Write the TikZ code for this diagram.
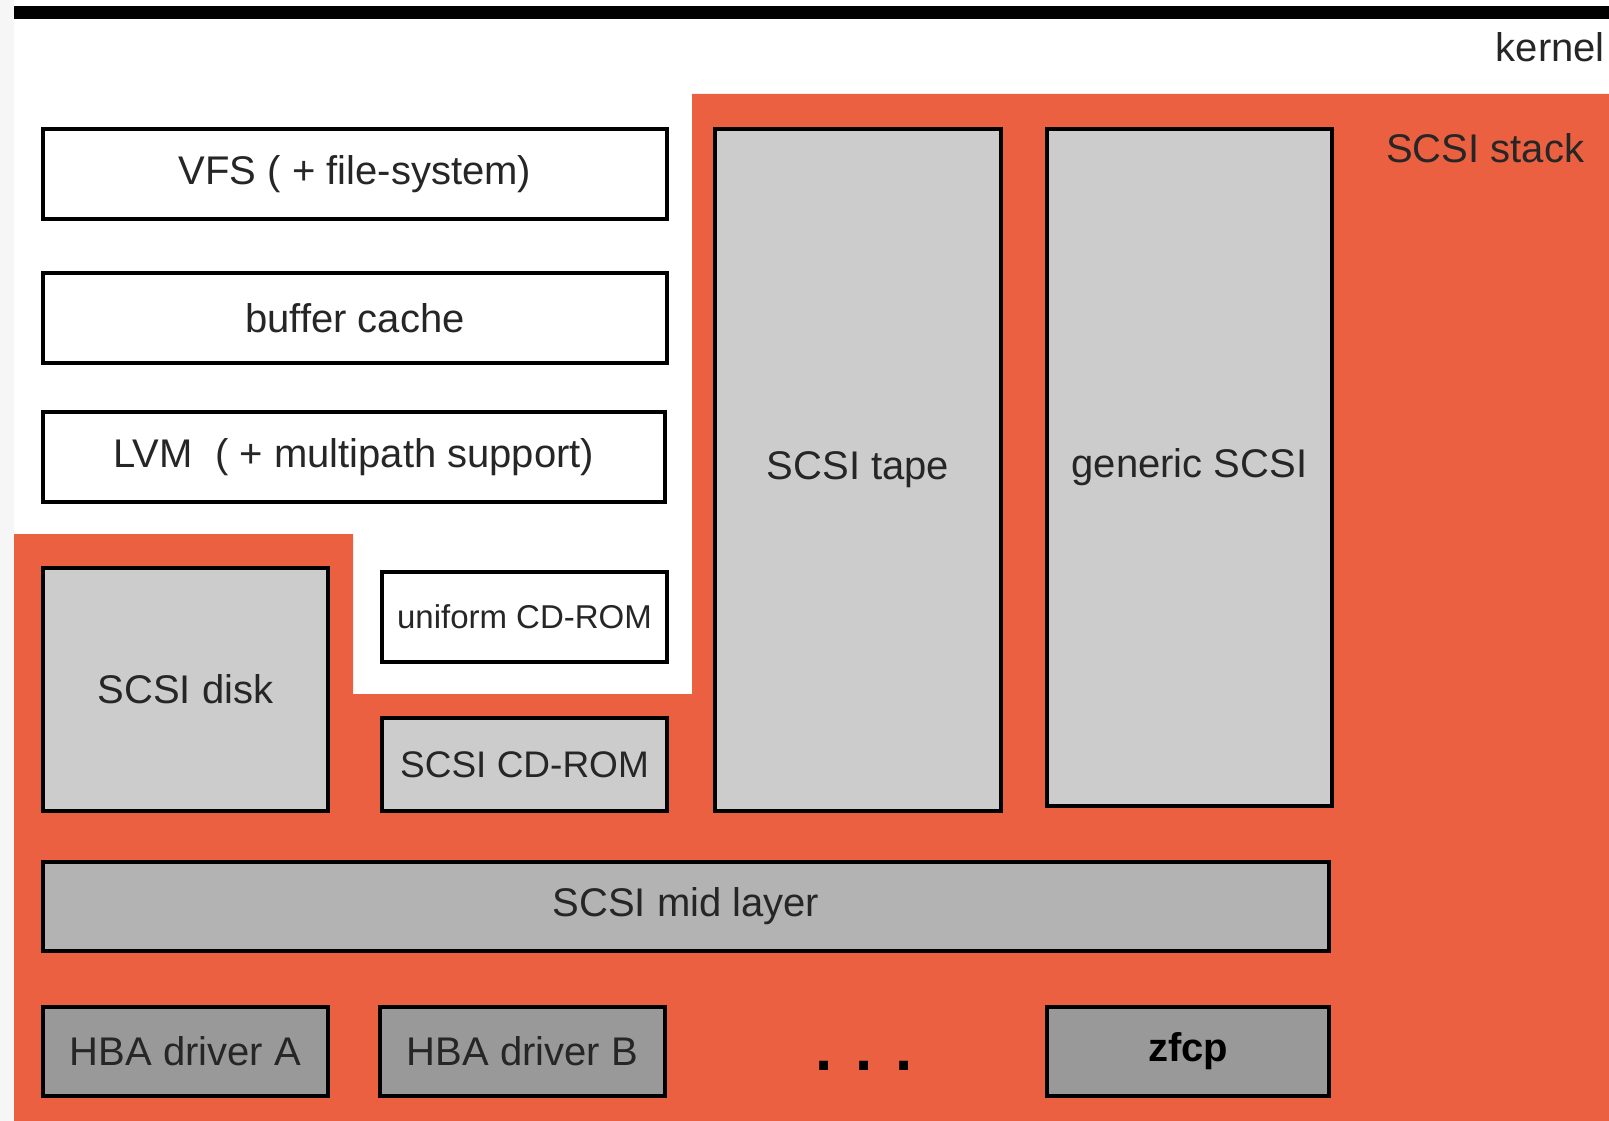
\documentclass[tikz,border=0pt]{standalone}
\usepackage{fontspec}
\setmainfont{Liberation Sans}
\definecolor{stackorange}{RGB}{234,96,64}
\definecolor{edgegray}{RGB}{246,246,246}
\definecolor{lightgray}{RGB}{204,204,204}
\definecolor{midgray}{RGB}{179,179,179}
\definecolor{darkgray}{RGB}{153,153,153}
\begin{document}
\begin{tikzpicture}[x=1pt,y=-1pt,
  box/.style={draw=black,line width=4pt,outer sep=0pt,inner sep=0pt,
    font=\fontsize{40}{48}\selectfont,text=black!85},
  plainbox/.style={box,fill=white},
  modbox/.style={box,fill=lightgray},
  midbox/.style={box,fill=midgray},
  hbabox/.style={box,fill=darkgray},
  lbl/.style={inner sep=0pt,font=\fontsize{40}{48}\selectfont,text=black!85}]
\useasboundingbox (0,0) rectangle (1609,1121);
% page background, margin strip and kernel rule
\fill[edgegray] (0,0) rectangle (1609,1121);
\fill[white] (14,0) rectangle (1609,1121);
\fill[black] (14,6) rectangle (1609,19);
% SCSI stack area
\fill[stackorange] (14,534) -- (353,534) -- (353,694) -- (692,694) -- (692,94)
  -- (1609,94) -- (1609,1121) -- (14,1121) -- cycle;
\node[lbl,anchor=base east] (kernel) at (1605,62) {kernel};
\node[lbl,anchor=base west] (stack) at (1386,163) {SCSI stack};
% upper layers
\node[plainbox,minimum width=624pt,minimum height=90pt] (vfs) at (355,174) {VFS ( + file-system)};
\node[plainbox,minimum width=624pt,minimum height=90pt] (buf) at (355,318) {buffer cache};
\node[plainbox,minimum width=622pt,minimum height=90pt] (lvm) at (354,457) {LVM\ \ ( + multipath support)};
% upper level drivers
\node[modbox,minimum width=285pt,minimum height=243pt] (disk) at (185.5,689.5) {SCSI disk};
\node[plainbox,minimum width=285pt,minimum height=90pt,font=\fontsize{33}{40}\selectfont] (ucd) at (524.5,617) {uniform CD-ROM};
\node[modbox,minimum width=285pt,minimum height=93pt,font=\fontsize{37}{44}\selectfont] (scd) at (524.5,764.5) {SCSI CD-ROM};
\node[modbox,minimum width=286pt,minimum height=682pt] (tape) at (858,470) {SCSI tape};
\node[modbox,minimum width=285pt,minimum height=677pt] (gen) at (1189.5,467.5) {generic SCSI};
% mid layer
\node[midbox,minimum width=1286pt,minimum height=89pt] (mid) at (686,906.5) {SCSI mid layer};
% low level drivers
\node[hbabox,minimum width=285pt,minimum height=89pt] (hbaa) at (185.5,1051.5) {HBA driver A};
\node[hbabox,minimum width=285pt,minimum height=89pt] (hbab) at (522.5,1051.5) {HBA driver B};
\node[lbl,anchor=base,font=\fontsize{62}{70}\selectfont\bfseries,text=black] (dots) at (864,1070) {. . .};
\node[hbabox,minimum width=282pt,minimum height=89pt,font=\fontsize{40}{48}\selectfont\bfseries,text=black] (zfcp) at (1188,1051.5) {zfcp};
\end{tikzpicture}
\end{document}
